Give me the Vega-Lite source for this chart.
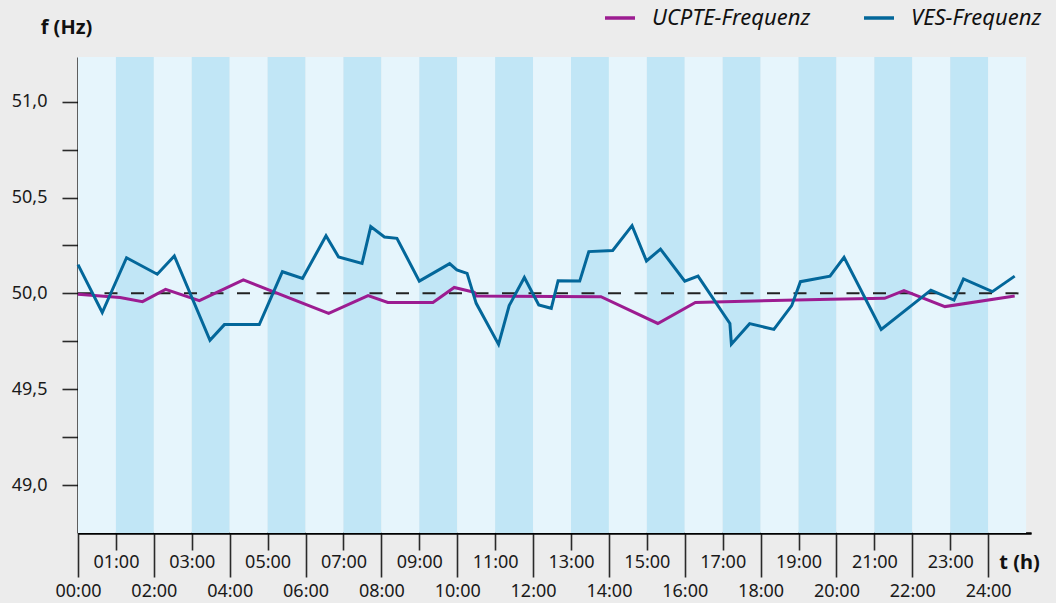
{
  "$schema": "https://vega.github.io/schema/vega-lite/v6.json",
  "width": 953,
  "height": 476,
  "autosize": {"type": "none"},
  "padding": {"left": 78, "top": 57, "right": 25, "bottom": 70},
  "background": "#ececec",
  "config": {
    "view": {"stroke": null},
    "font": "Noto Sans",
    "axis": {
      "labelFont": "Noto Sans",
      "labelFontSize": 18,
      "labelColor": "#1a1a1a",
      "domainColor": "#000000",
      "domainWidth": 2.2,
      "tickColor": "#2a2a2a",
      "tickWidth": 1.6,
      "grid": false,
      "titleFont": "Noto Sans",
      "titleFontWeight": "bold",
      "titleFontSize": 20,
      "titleColor": "#111111",
      "zindex": 1
    },
    "legend": {
      "labelFont": "Noto Sans",
      "labelFontStyle": "italic",
      "labelFontSize": 22,
      "labelColor": "#111111",
      "symbolType": "stroke",
      "symbolSize": 900,
      "symbolStrokeWidth": 3.5,
      "labelOffset": 15,
      "columnPadding": 46,
      "labelLimit": 300
    }
  },
  "datasets": {
    "stripes": [
      {"s": 0, "e": 1, "k": "a"}, {"s": 1, "e": 2, "k": "b"}, {"s": 2, "e": 3, "k": "a"},
      {"s": 3, "e": 4, "k": "b"}, {"s": 4, "e": 5, "k": "a"}, {"s": 5, "e": 6, "k": "b"},
      {"s": 6, "e": 7, "k": "a"}, {"s": 7, "e": 8, "k": "b"}, {"s": 8, "e": 9, "k": "a"},
      {"s": 9, "e": 10, "k": "b"}, {"s": 10, "e": 11, "k": "a"}, {"s": 11, "e": 12, "k": "b"},
      {"s": 12, "e": 13, "k": "a"}, {"s": 13, "e": 14, "k": "b"}, {"s": 14, "e": 15, "k": "a"},
      {"s": 15, "e": 16, "k": "b"}, {"s": 16, "e": 17, "k": "a"}, {"s": 17, "e": 18, "k": "b"},
      {"s": 18, "e": 19, "k": "a"}, {"s": 19, "e": 20, "k": "b"}, {"s": 20, "e": 21, "k": "a"},
      {"s": 21, "e": 22, "k": "b"}, {"s": 22, "e": 23, "k": "a"}, {"s": 23, "e": 24, "k": "b"},
      {"s": 24, "e": 25, "k": "a"}
    ],
    "freq": [
      {"t": 0, "v": 49.996, "s": "UCPTE-Frequenz"},
      {"t": 1.11, "v": 49.978, "s": "UCPTE-Frequenz"},
      {"t": 1.7, "v": 49.957, "s": "UCPTE-Frequenz"},
      {"t": 2.31, "v": 50.021, "s": "UCPTE-Frequenz"},
      {"t": 3.2, "v": 49.962, "s": "UCPTE-Frequenz"},
      {"t": 4.36, "v": 50.07, "s": "UCPTE-Frequenz"},
      {"t": 6.61, "v": 49.896, "s": "UCPTE-Frequenz"},
      {"t": 7.65, "v": 49.988, "s": "UCPTE-Frequenz"},
      {"t": 8.17, "v": 49.953, "s": "UCPTE-Frequenz"},
      {"t": 9.36, "v": 49.953, "s": "UCPTE-Frequenz"},
      {"t": 9.92, "v": 50.031, "s": "UCPTE-Frequenz"},
      {"t": 10.45, "v": 50.005, "s": "UCPTE-Frequenz"},
      {"t": 10.5, "v": 49.986, "s": "UCPTE-Frequenz"},
      {"t": 13.79, "v": 49.983, "s": "UCPTE-Frequenz"},
      {"t": 15.29, "v": 49.843, "s": "UCPTE-Frequenz"},
      {"t": 16.28, "v": 49.953, "s": "UCPTE-Frequenz"},
      {"t": 19.85, "v": 49.969, "s": "UCPTE-Frequenz"},
      {"t": 21.27, "v": 49.974, "s": "UCPTE-Frequenz"},
      {"t": 21.78, "v": 50.014, "s": "UCPTE-Frequenz"},
      {"t": 22.86, "v": 49.931, "s": "UCPTE-Frequenz"},
      {"t": 24.7, "v": 49.986, "s": "UCPTE-Frequenz"},
      {"t": 0, "v": 50.15, "s": "VES-Frequenz"},
      {"t": 0.64, "v": 49.9, "s": "VES-Frequenz"},
      {"t": 1.28, "v": 50.186, "s": "VES-Frequenz"},
      {"t": 2.09, "v": 50.1, "s": "VES-Frequenz"},
      {"t": 2.54, "v": 50.195, "s": "VES-Frequenz"},
      {"t": 3.48, "v": 49.755, "s": "VES-Frequenz"},
      {"t": 3.86, "v": 49.837, "s": "VES-Frequenz"},
      {"t": 4.78, "v": 49.837, "s": "VES-Frequenz"},
      {"t": 5.39, "v": 50.113, "s": "VES-Frequenz"},
      {"t": 5.92, "v": 50.078, "s": "VES-Frequenz"},
      {"t": 6.54, "v": 50.3, "s": "VES-Frequenz"},
      {"t": 6.87, "v": 50.19, "s": "VES-Frequenz"},
      {"t": 7.49, "v": 50.156, "s": "VES-Frequenz"},
      {"t": 7.72, "v": 50.348, "s": "VES-Frequenz"},
      {"t": 8.08, "v": 50.294, "s": "VES-Frequenz"},
      {"t": 8.41, "v": 50.287, "s": "VES-Frequenz"},
      {"t": 9.0, "v": 50.064, "s": "VES-Frequenz"},
      {"t": 9.8, "v": 50.155, "s": "VES-Frequenz"},
      {"t": 9.99, "v": 50.122, "s": "VES-Frequenz"},
      {"t": 10.26, "v": 50.104, "s": "VES-Frequenz"},
      {"t": 10.5, "v": 49.948, "s": "VES-Frequenz"},
      {"t": 11.09, "v": 49.734, "s": "VES-Frequenz"},
      {"t": 11.37, "v": 49.936, "s": "VES-Frequenz"},
      {"t": 11.77, "v": 50.083, "s": "VES-Frequenz"},
      {"t": 12.15, "v": 49.939, "s": "VES-Frequenz"},
      {"t": 12.48, "v": 49.922, "s": "VES-Frequenz"},
      {"t": 12.66, "v": 50.066, "s": "VES-Frequenz"},
      {"t": 13.23, "v": 50.064, "s": "VES-Frequenz"},
      {"t": 13.47, "v": 50.218, "s": "VES-Frequenz"},
      {"t": 14.1, "v": 50.224, "s": "VES-Frequenz"},
      {"t": 14.61, "v": 50.353, "s": "VES-Frequenz"},
      {"t": 14.99, "v": 50.169, "s": "VES-Frequenz"},
      {"t": 15.36, "v": 50.231, "s": "VES-Frequenz"},
      {"t": 16.0, "v": 50.064, "s": "VES-Frequenz"},
      {"t": 16.35, "v": 50.09, "s": "VES-Frequenz"},
      {"t": 17.19, "v": 49.843, "s": "VES-Frequenz"},
      {"t": 17.23, "v": 49.735, "s": "VES-Frequenz"},
      {"t": 17.71, "v": 49.842, "s": "VES-Frequenz"},
      {"t": 18.35, "v": 49.812, "s": "VES-Frequenz"},
      {"t": 18.82, "v": 49.936, "s": "VES-Frequenz"},
      {"t": 19.05, "v": 50.061, "s": "VES-Frequenz"},
      {"t": 19.83, "v": 50.09, "s": "VES-Frequenz"},
      {"t": 20.2, "v": 50.188, "s": "VES-Frequenz"},
      {"t": 21.18, "v": 49.812, "s": "VES-Frequenz"},
      {"t": 22.49, "v": 50.017, "s": "VES-Frequenz"},
      {"t": 23.1, "v": 49.965, "s": "VES-Frequenz"},
      {"t": 23.35, "v": 50.075, "s": "VES-Frequenz"},
      {"t": 24.11, "v": 50.009, "s": "VES-Frequenz"},
      {"t": 24.7, "v": 50.09, "s": "VES-Frequenz"}
    ]
  },
  "layer": [
    {
      "data": {"name": "stripes"},
      "mark": {"type": "rect"},
      "encoding": {
        "x": {
          "field": "s",
          "type": "quantitative",
          "scale": {"domain": [0, 25.13], "nice": false, "zero": false},
          "axis": {
            "orient": "bottom",
            "values": [1, 3, 5, 7, 9, 11, 13, 15, 17, 19, 21, 23],
            "labelExpr": "(datum.value < 10 ? '0' : '') + datum.value + ':00'",
            "tickSize": 17,
            "labelPadding": 3,
            "labelFlush": false,
            "labelOverlap": false,
            "title": "t (h)",
            "titleX": 941,
            "titleY": 29,
            "titleAlign": "center",
            "titleBaseline": "middle"
          }
        },
        "x2": {"field": "e"},
        "fill": {
          "field": "k",
          "type": "nominal",
          "scale": {"domain": ["a", "b"], "range": ["#e6f5fc", "#c1e6f6"]},
          "legend": null
        }
      }
    },
    {
      "data": {"values": [{}]},
      "mark": {"type": "rule", "color": "#222222", "strokeWidth": 2, "strokeDash": [13, 13.5]},
      "encoding": {
        "x": {"datum": 0, "type": "quantitative", "axis": null},
        "x2": {"datum": 25.13},
        "y": {
          "datum": 50,
          "type": "quantitative",
          "scale": {"domain": [48.75, 51.233], "nice": false, "zero": false},
          "axis": {
            "values": [49, 49.25, 49.5, 49.75, 50, 50.25, 50.5, 50.75, 51],
            "labelExpr": "abs(datum.value * 2 - round(datum.value * 2)) < 0.01 ? replace(format(datum.value, '.1f'), '.', ',') : ''",
            "tickSize": 16,
            "labelPadding": 15,
            "title": "f (Hz)",
            "titleAngle": 0,
            "titleX": -12,
            "titleY": -30,
            "titleAlign": "center",
            "titleBaseline": "middle"
          }
        }
      }
    },
    {
      "data": {"name": "freq"},
      "mark": {"type": "line", "strokeWidth": 3},
      "encoding": {
        "x": {
          "field": "t",
          "type": "quantitative",
          "scale": {"domain": [0, 25.13], "nice": false, "zero": false},
          "axis": {
            "orient": "bottom",
            "values": [0, 2, 4, 6, 8, 10, 12, 14, 16, 18, 20, 22, 24],
            "labelExpr": "(datum.value < 10 ? '0' : '') + datum.value + ':00'",
            "tickSize": 44,
            "labelPadding": 5,
            "labelFlush": false,
            "labelOverlap": false,
            "title": null
          }
        },
        "y": {
          "field": "v",
          "type": "quantitative",
          "scale": {"domain": [48.75, 51.233], "nice": false, "zero": false},
          "axis": {
            "values": [49, 49.25, 49.5, 49.75, 50, 50.25, 50.5, 50.75, 51],
            "labelExpr": "abs(datum.value * 2 - round(datum.value * 2)) < 0.01 ? replace(format(datum.value, '.1f'), '.', ',') : ''",
            "tickSize": 16,
            "labelPadding": 15,
            "title": "f (Hz)",
            "titleAngle": 0,
            "titleX": -12,
            "titleY": -30,
            "titleAlign": "center",
            "titleBaseline": "middle"
          }
        },
        "color": {
          "field": "s",
          "type": "nominal",
          "scale": {"domain": ["UCPTE-Frequenz", "VES-Frequenz"], "range": ["#9c1c91", "#03679a"]},
          "legend": {
            "title": null,
            "orient": "none",
            "direction": "horizontal",
            "legendX": 525,
            "legendY": -56
          }
        }
      }
    }
  ],
  "resolve": {"axis": {"x": "independent"}}
}
